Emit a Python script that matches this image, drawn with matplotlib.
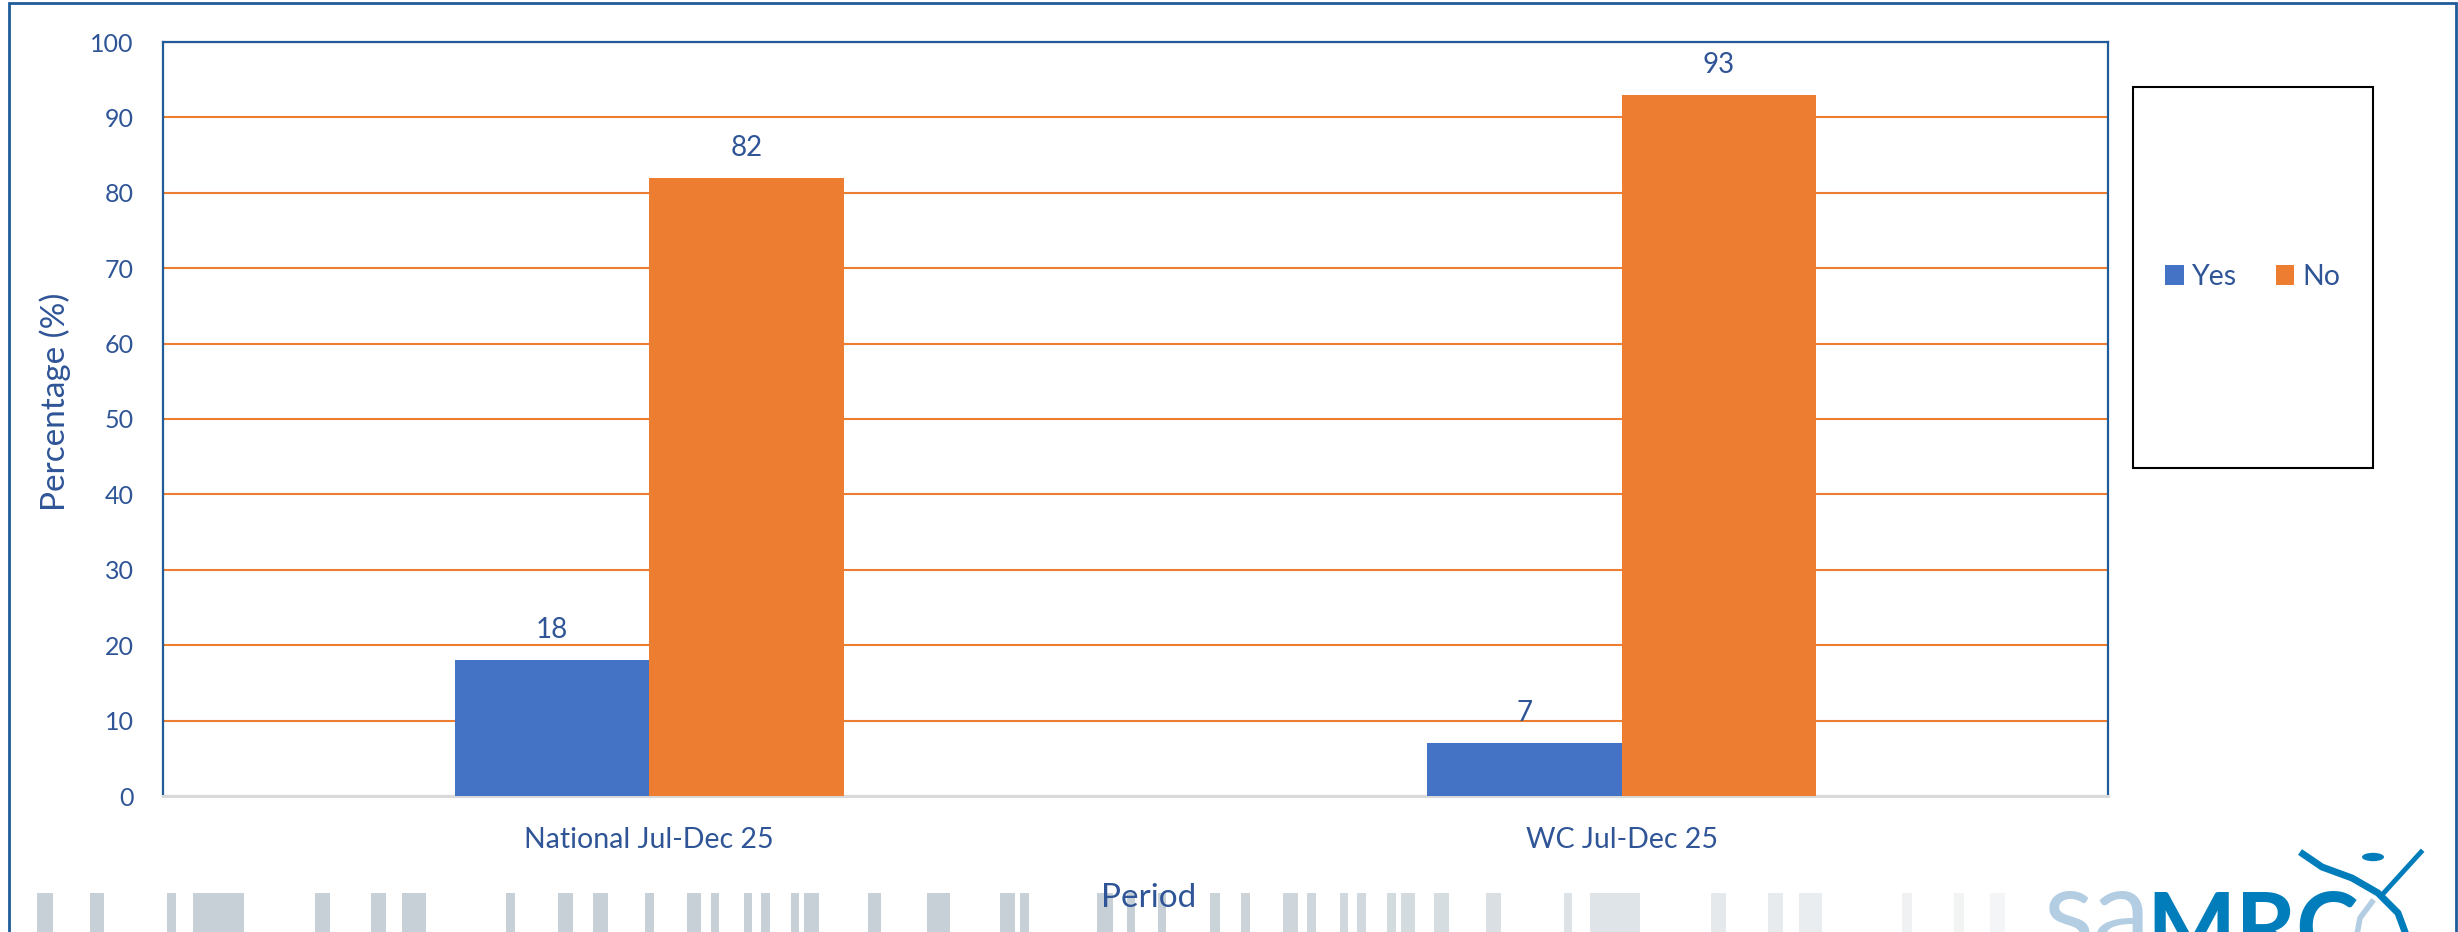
import matplotlib
matplotlib.use("Agg")
import matplotlib.pyplot as plt
from matplotlib.patches import Rectangle, Circle
from matplotlib.lines import Line2D
import numpy as np

#  Data
# ******
periods = ["National Jul-Dec 25", "WC Jul-Dec 25"]
yes_pct = [18, 7]
no_pct = [82, 93]
series_names = ["Yes", "No"]
y_ticks = list(range(0, 101, 10))

#  Style
# ******
W, H = 2458, 932
txt_col = "#2F5597"
blue = "#4472C4"
orange = "#ED7D31"
frame_col = "#1F5C99"
plt.rcParams["font.family"] = ["Lato", "DejaVu Sans"]


def fx(x):
    return x / W


def fy(y):
    # pixel y counted from the top
    return 1 - y / H


fig = plt.figure(figsize=(W / 100, H / 100), dpi=100)

#  Background strip (barcode-like decoration) and logo
# ****************************************************
stripes = [(37, 53), (90, 104), (167, 176), (193, 244), (315, 330), (371, 386),
           (402, 426), (506, 515), (558, 573), (593, 608), (645, 654), (687, 701),
           (711, 719), (744, 752), (761, 770), (791, 799), (804, 819), (868, 881),
           (927, 950), (1000, 1015), (1020, 1029), (1097, 1113), (1127, 1135),
           (1158, 1166), (1210, 1220), (1241, 1250), (1283, 1298), (1307, 1316),
           (1340, 1348), (1357, 1366), (1387, 1396), (1401, 1415), (1434, 1449),
           (1486, 1501), (1564, 1572), (1590, 1640), (1711, 1726), (1768, 1783),
           (1799, 1822), (1902, 1912), (1954, 1964), (1990, 2005)]
c0 = np.array([199, 208, 214]) / 255
c1 = np.array([247, 248, 248]) / 255
for x0, x1 in stripes:
    t = min(max((x0 - 1150) / 900, 0), 1)
    col = c0 * (1 - t) + c1 * t
    fig.patches.append(Rectangle((fx(x0), 0), fx(x1 - x0), fy(893), transform=fig.transFigure,
                                 facecolor=col, edgecolor="none", zorder=0))

fig.text(fx(2043), fy(950), "sa", color="#B3CDE3", fontsize=83, ha="left", va="baseline", zorder=1)
fig.text(fx(2146), fy(960), "MRC", color="#007DBA", fontsize=68, fontweight="bold",
         ha="left", va="baseline", zorder=1)
fig.patches.append(Circle((fx(2373), fy(857)), fx(11), transform=fig.transFigure,
                          facecolor="#007DBA", edgecolor="none", zorder=2))
fig.lines.append(Line2D([fx(2300), fx(2322), fx(2352), fx(2378), fx(2398), fx(2408)],
                        [fy(852), fy(867), fy(878), fy(893), fy(913), fy(940)],
                        transform=fig.transFigure, color="#007DBA", lw=5, solid_capstyle="butt", zorder=2))
fig.lines.append(Line2D([fx(2421), fx(2381)], [fy(852), fy(896)],
                        transform=fig.transFigure, color="#007DBA", lw=3.5, zorder=2))
fig.lines.append(Line2D([fx(2372), fx(2360), fx(2356)], [fy(902), fy(918), fy(940)],
                        transform=fig.transFigure, color="#B3CDE3", lw=4, zorder=2))

# outer frame
fig.patches.append(Rectangle((fx(9), -0.05), fx(2456 - 9), fy(3) + 0.05, transform=fig.transFigure,
                             facecolor="none", edgecolor=frame_col, lw=2, zorder=3))

#  Chart
# ******
ax = fig.add_axes([fx(163), fy(796), fx(2108 - 163), (796 - 42) / H])
ax.set_facecolor("none")
x = np.arange(len(periods))
bw = 0.2
b1 = ax.bar(x - bw / 2, yes_pct, bw, color=blue, label=series_names[0], zorder=3)
b2 = ax.bar(x + bw / 2, no_pct, bw, color=orange, label=series_names[1], zorder=3)

for bars in (b1, b2):
    for rect in bars:
        h = rect.get_height()
        ax.annotate(str(h), (rect.get_x() + rect.get_width() / 2, h), xytext=(0, 21.5),
                    textcoords="offset points", ha="center", va="center",
                    color=txt_col, fontsize=20)

ax.set_xlim(-0.5, 1.5)
ax.set_ylim(0, 100)
ax.set_yticks(y_ticks)
ax.set_xticks(x)
ax.set_xticklabels(periods)
ax.tick_params(axis="both", length=0, labelcolor=txt_col)
ax.tick_params(axis="y", pad=21, labelsize=18)
ax.tick_params(axis="x", pad=22, labelsize=20.5)
ax.yaxis.grid(True, color=orange, lw=1.5, zorder=1)
ax.set_axisbelow(True)
for side in ("left", "top", "right"):
    ax.spines[side].set_color(frame_col)
    ax.spines[side].set_linewidth(1.6)
ax.spines["bottom"].set_color("#D9D9D9")
ax.spines["bottom"].set_linewidth(2.2)

fig.text(fx(55), fy(402), "Percentage (%)", rotation=90, ha="center", va="center",
         color=txt_col, fontsize=24)
fig.text(fx(1149), fy(898), "Period", ha="center", va="center", color=txt_col, fontsize=24, zorder=4)

#  Legend
# ********
fig.patches.append(Rectangle((fx(2133), fy(468)), fx(2373 - 2133), (468 - 87) / H,
                             transform=fig.transFigure, facecolor="white", edgecolor="black",
                             lw=1.5, zorder=3))
leg = fig.legend(handles=[b1, b2], labels=series_names, loc="center",
                 bbox_to_anchor=(fx(2253), fy(277)), ncol=2, frameon=False,
                 fontsize=20.5, handlelength=0.65, handleheight=0.65, handletextpad=0.3,
                 columnspacing=1.35, labelcolor=txt_col)
leg.set_zorder(5)

fig.savefig("out.png", dpi=100)
